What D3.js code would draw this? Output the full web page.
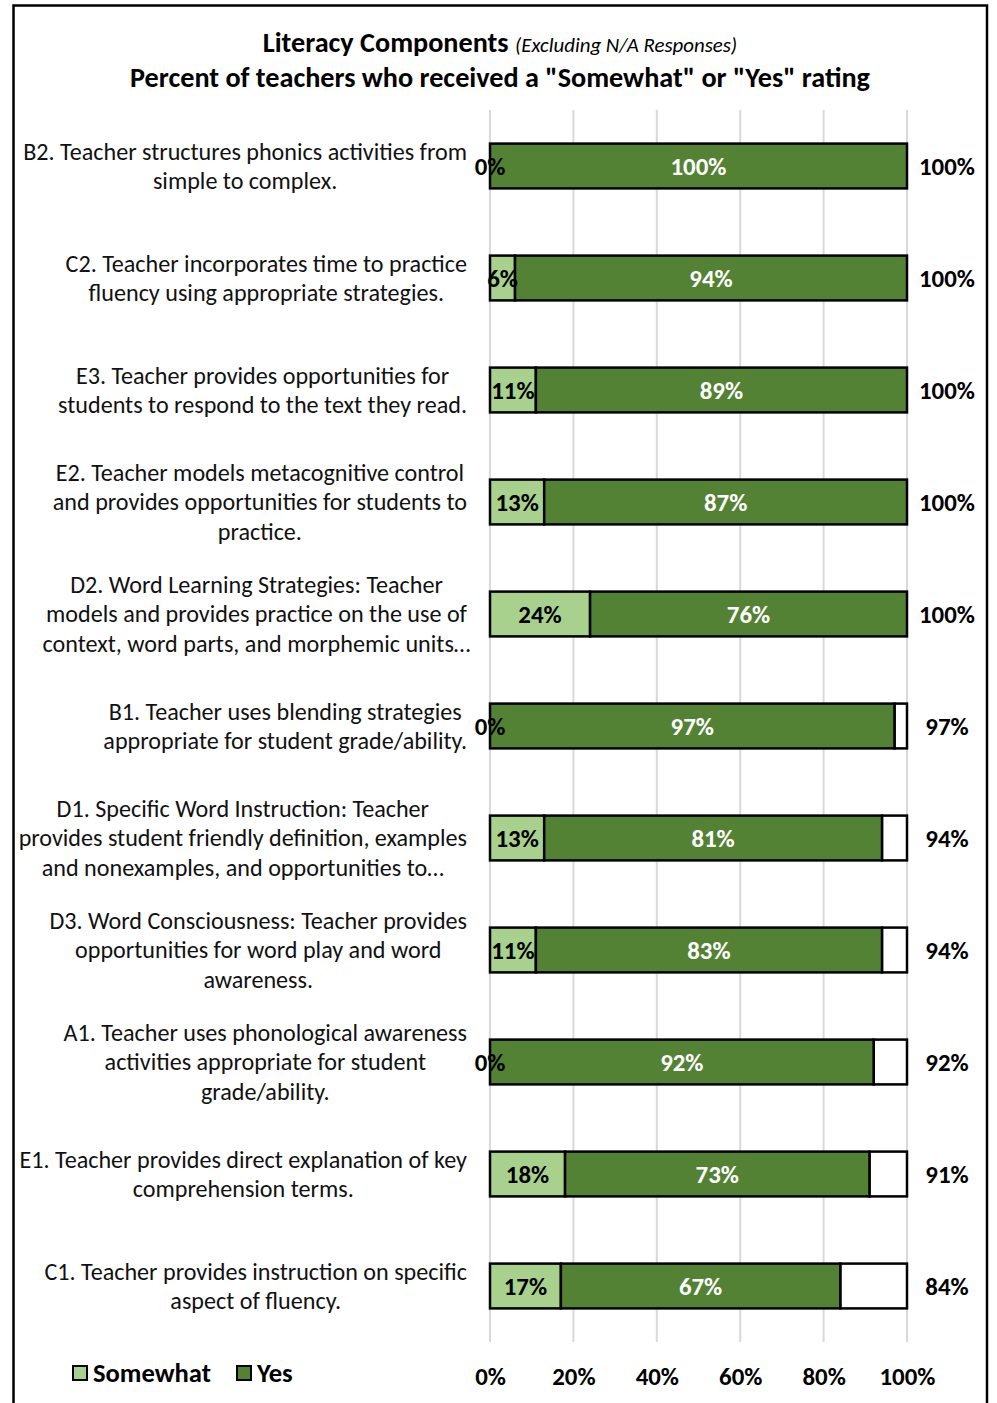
<!DOCTYPE html>
<html>
<head>
<meta charset="utf-8">
<script src="https://cdn.jsdelivr.net/npm/d3@7"></script>
<style>
  html, body { margin: 0; padding: 0; background: #fff; }
  svg { display: block; font-family: Carlito, Calibri, "Open Sans", sans-serif; }
</style>
</head>
<body>
<div id="chart"></div>
<script>
// Literacy components — stacked horizontal bars (Somewhat / Yes)

const CATEGORIES = [
  ['B2. Teacher structures phonics activities from', 'simple to complex.'],
  ['C2. Teacher incorporates time to practice', 'fluency using appropriate strategies.'],
  ['E3. Teacher provides opportunities for', 'students to respond to the text they read.'],
  ['E2. Teacher models metacognitive control', 'and provides opportunities for students to', 'practice.'],
  ['D2. Word Learning Strategies: Teacher', 'models and provides practice on the use of', 'context, word parts, and morphemic units…'],
  ['B1. Teacher uses blending strategies', 'appropriate for student grade/ability.'],
  ['D1. Specific Word Instruction: Teacher', 'provides student friendly definition, examples', 'and nonexamples, and opportunities to…'],
  ['D3. Word Consciousness: Teacher provides', 'opportunities for word play and word', 'awareness.'],
  ['A1. Teacher uses phonological awareness', 'activities appropriate for student', 'grade/ability.'],
  ['E1. Teacher provides direct explanation of key', 'comprehension terms.'],
  ['C1. Teacher provides instruction on specific', 'aspect of fluency.']
];

const SOMEWHAT = [0, 6, 11, 13, 24, 0, 13, 11, 0, 18, 17];
const YES      = [100, 94, 89, 87, 76, 97, 81, 83, 92, 73, 67];
const TOTAL    = [100, 100, 100, 100, 100, 97, 94, 94, 92, 91, 84];

const X_TICKS = [0, 20, 40, 60, 80, 100];

const SERIES = [
  { name: 'Somewhat', fill: '#a9d18e' },
  { name: 'Yes',      fill: '#548235' }
];

(function () {
  'use strict';

  const W = 997, H = 1403;

  const svg = d3.select('#chart').append('svg')
    .attr('width', W)
    .attr('height', H)
    .attr('viewBox', `0 0 ${W} ${H}`);

  svg.append('rect').attr('width', W).attr('height', H).attr('fill', '#fff');

  // font size that makes a sample string reach a given width
  function fitSize(str, weight, target) {
    const t = svg.append('text').attr('font-size', 20).attr('font-weight', weight).text(str);
    const w = t.node().getComputedTextLength();
    t.remove();
    return 20 * target / w;
  }

  const FONT_CAT = fitSize('B2. Teacher structures phonics activities from', 400, 444);
  const FONT_VAL = fitSize('100%', 700, 56);
  const FONT_TITLE = fitSize('Percent of teachers who received a "Somewhat" or "Yes" rating', 700, 740);
  const FONT_LEG = fitSize('Somewhat', 700, 118);

  // outer frame (bottom edge is cut off in the original)
  svg.append('path')
    .attr('d', `M13.5,${H} V5.5 H987 V${H}`)
    .attr('fill', 'none')
    .attr('stroke', '#000')
    .attr('stroke-width', 2.5);

  const x = d3.scaleLinear().domain([0, 100]).range([490, 907]);
  const idx = d3.range(CATEGORIES.length);
  const y = d3.scaleBand().domain(idx).range([110, 1342])
    .paddingInner(0.6).paddingOuter(0.3);

  // titles
  const t1 = svg.append('text')
    .attr('x', 500).attr('y', 52)
    .attr('text-anchor', 'middle')
    .attr('fill', '#000');
  t1.append('tspan').attr('font-size', FONT_TITLE).attr('font-weight', 700).text('Literacy Components ');
  t1.append('tspan').attr('font-size', FONT_TITLE * 0.74).attr('font-style', 'italic').text('(Excluding N/A Responses)');

  svg.append('text')
    .attr('x', 500).attr('y', 87)
    .attr('text-anchor', 'middle')
    .attr('font-size', FONT_TITLE).attr('font-weight', 700)
    .attr('fill', '#000')
    .text('Percent of teachers who received a "Somewhat" or "Yes" rating');

  // gridlines
  svg.append('g').selectAll('line')
    .data(X_TICKS)
    .join('line')
      .attr('x1', d => x(d)).attr('x2', d => x(d))
      .attr('y1', 110).attr('y2', 1342)
      .attr('stroke', '#d9d9d9')
      .attr('stroke-width', 2);

  // x axis labels
  const xAxis = svg.append('g')
    .attr('transform', 'translate(0,1376)')
    .call(d3.axisBottom(x).tickValues(X_TICKS).tickFormat(d => d + '%').tickSize(0).tickPadding(0));
  xAxis.select('.domain').remove();
  xAxis.selectAll('text')
    .attr('dy', '0.35em')
    .attr('y', 0)
    .attr('font-family', 'Carlito, Calibri, "Open Sans", sans-serif')
    .attr('font-size', FONT_VAL)
    .attr('font-weight', 700)
    .attr('fill', '#000');

  // bars
  const rows = svg.append('g').selectAll('g.row')
    .data(idx)
    .join('g')
      .attr('class', 'row')
      .attr('transform', i => `translate(0,${y(i)})`);

  const bh = y.bandwidth();

  // empty remainder up to 100%
  rows.filter(i => TOTAL[i] < 100)
    .append('rect')
      .attr('x', i => x(TOTAL[i]))
      .attr('width', i => x(100) - x(TOTAL[i]))
      .attr('height', bh)
      .attr('fill', '#fff')
      .attr('stroke', '#000')
      .attr('stroke-width', 2.5);

  rows.filter(i => SOMEWHAT[i] > 0)
    .append('rect')
      .attr('x', x(0))
      .attr('width', i => x(SOMEWHAT[i]) - x(0))
      .attr('height', bh)
      .attr('fill', SERIES[0].fill)
      .attr('stroke', '#000')
      .attr('stroke-width', 2.5);

  rows.append('rect')
    .attr('x', i => x(SOMEWHAT[i]))
    .attr('width', i => x(SOMEWHAT[i] + YES[i]) - x(SOMEWHAT[i]))
    .attr('height', bh)
    .attr('fill', SERIES[1].fill)
    .attr('stroke', '#000')
    .attr('stroke-width', 2.5);

  // value labels
  rows.append('text')
    .attr('x', i => x(SOMEWHAT[i] / 2))
    .attr('y', bh / 2)
    .attr('dy', '0.35em')
    .attr('text-anchor', 'middle')
    .attr('font-size', FONT_VAL).attr('font-weight', 700)
    .attr('fill', '#000')
    .text(i => SOMEWHAT[i] + '%');

  rows.append('text')
    .attr('x', i => x(SOMEWHAT[i] + YES[i] / 2))
    .attr('y', bh / 2)
    .attr('dy', '0.35em')
    .attr('text-anchor', 'middle')
    .attr('font-size', FONT_VAL).attr('font-weight', 700)
    .attr('fill', '#fff')
    .text(i => YES[i] + '%');

  rows.append('text')
    .attr('x', 947)
    .attr('y', bh / 2)
    .attr('dy', '0.35em')
    .attr('text-anchor', 'middle')
    .attr('font-size', FONT_VAL).attr('font-weight', 700)
    .attr('fill', '#000')
    .text(i => TOTAL[i] + '%');

  // category labels: centred lines, block right-aligned near the plot;
  // truncated lines (ending in …) overflow like in the original
  const LINE_H = 29.5;
  const labels = svg.append('g').selectAll('text.cat')
    .data(idx)
    .join('text')
      .attr('class', 'cat')
      .attr('font-size', FONT_CAT)
      .attr('fill', '#111')
      .attr('text-anchor', 'middle');

  labels.each(function (i) {
    const lines = CATEGORIES[i];
    const el = d3.select(this);
    const cy = y(i) + bh / 2;
    const y0 = cy - (lines.length - 1) * LINE_H / 2;
    lines.forEach((ln, k) => {
      el.append('tspan')
        .attr('y', y0 + k * LINE_H)
        .attr('dy', '0.35em')
        .text(ln);
    });
    let maxW = 0;
    el.selectAll('tspan').each(function () {
      if (!this.textContent.endsWith('…')) {
        maxW = Math.max(maxW, this.getComputedTextLength());
      }
    });
    const cx = Math.max(16 + maxW / 2, 467 - maxW / 2);
    el.selectAll('tspan').attr('x', cx);
  });

  // legend
  const legend = svg.append('g').attr('transform', 'translate(0,1373)');
  const legX = [73, 237];
  SERIES.forEach((s, k) => {
    legend.append('rect')
      .attr('x', legX[k]).attr('y', -7)
      .attr('width', 14).attr('height', 14)
      .attr('fill', s.fill)
      .attr('stroke', '#000')
      .attr('stroke-width', 2);
    legend.append('text')
      .attr('x', legX[k] + 20)
      .attr('y', 0)
      .attr('dy', '0.35em')
      .attr('font-size', FONT_LEG).attr('font-weight', 700)
      .attr('fill', '#000')
      .text(s.name);
  });
})();
</script>
</body>
</html>
